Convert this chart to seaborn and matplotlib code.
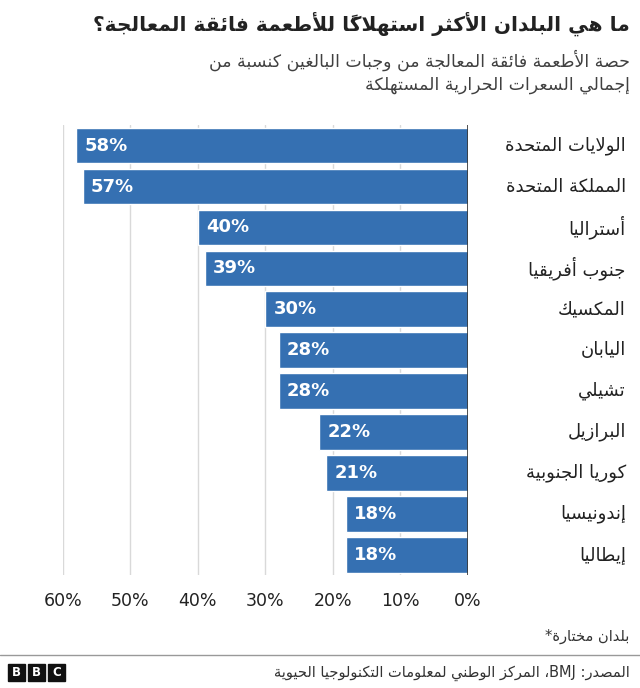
import matplotlib
matplotlib.use("Agg")
import matplotlib.pyplot as plt
import matplotlib.transforms as mtrans
from matplotlib.patches import Rectangle
import pandas as pd
import seaborn as sns

# --- data ---
countries = ["الولايات المتحدة", "المملكة المتحدة", "أستراليا", "جنوب أفريقيا", "المكسيك",
             "اليابان", "تشيلي", "البرازيل", "كوريا الجنوبية", "إندونيسيا", "إيطاليا"]
shares = [58, 57, 40, 39, 30, 28, 28, 22, 21, 18, 18]
ticks = [0, 10, 20, 30, 40, 50, 60]

TITLE = "ما هي البلدان الأكثر استهلاكاً للأطعمة فائقة المعالجة؟"
SUB1 = "حصة الأطعمة فائقة المعالجة من وجبات البالغين كنسبة من"
SUB2 = "إجمالي السعرات الحرارية المستهلكة"
NOTE = "بلدان مختارة*"
SOURCE = "المصدر: BMJ، المركز الوطني لمعلومات التكنولوجيا الحيوية"

# --- minimal arabic shaping (matplotlib has no complex text layout) ---
def _r(base, n):
    return tuple(chr(base + k) for k in range(n))

FORMS = {
    'ا': _r(0xFE8D, 2), 'أ': _r(0xFE83, 2), 'إ': _r(0xFE87, 2), 'آ': _r(0xFE81, 2),
    'ب': _r(0xFE8F, 4), 'ة': _r(0xFE93, 2), 'ت': _r(0xFE95, 4), 'ث': _r(0xFE99, 4),
    'ج': _r(0xFE9D, 4), 'ح': _r(0xFEA1, 4), 'خ': _r(0xFEA5, 4), 'د': _r(0xFEA9, 2),
    'ذ': _r(0xFEAB, 2), 'ر': _r(0xFEAD, 2), 'ز': _r(0xFEAF, 2), 'س': _r(0xFEB1, 4),
    'ش': _r(0xFEB5, 4), 'ص': _r(0xFEB9, 4), 'ض': _r(0xFEBD, 4), 'ط': _r(0xFEC1, 4),
    'ظ': _r(0xFEC5, 4), 'ع': _r(0xFEC9, 4), 'غ': _r(0xFECD, 4), 'ف': _r(0xFED1, 4),
    'ق': _r(0xFED5, 4), 'ك': _r(0xFED9, 4), 'ل': _r(0xFEDD, 4), 'م': _r(0xFEE1, 4),
    'ن': _r(0xFEE5, 4), 'ه': _r(0xFEE9, 4), 'و': _r(0xFEED, 2), 'ى': _r(0xFEEF, 2),
    'ي': _r(0xFEF1, 4), 'ء': _r(0xFE80, 1), 'ؤ': _r(0xFE85, 2), 'ئ': _r(0xFE89, 4),
}
LAMALEF = {'ا': _r(0xFEFB, 2), 'أ': _r(0xFEF7, 2), 'إ': _r(0xFEF9, 2), 'آ': _r(0xFEF5, 2)}


def _dual(c):
    return not isinstance(c, tuple) and c in FORMS and len(FORMS[c]) == 4


def _joins(c):
    return isinstance(c, tuple) or (c in FORMS and len(FORMS[c]) >= 2)


def _shape(s):
    units = []
    for ch in s:
        if '\u064b' <= ch <= '\u0652' and units:
            units[-1][1] += ch
        else:
            units.append([ch, ''])
    merged = []
    i = 0
    while i < len(units):
        c, m = units[i]
        if c == 'ل' and i + 1 < len(units) and units[i + 1][0] in LAMALEF:
            merged.append([('LA', units[i + 1][0]), m + units[i + 1][1]])
            i += 2
        else:
            merged.append([c, m])
            i += 1
    out = []
    for i, (c, m) in enumerate(merged):
        prev = merged[i - 1][0] if i > 0 else None
        nxt = merged[i + 1][0] if i + 1 < len(merged) else None
        jp = prev is not None and _dual(prev) and _joins(c)
        jn = nxt is not None and _dual(c) and _joins(nxt)
        if isinstance(c, tuple):
            f = LAMALEF[c[1]]
            g = f[1] if jp else f[0]
        elif c in FORMS:
            f = FORMS[c]
            if len(f) == 4:
                g = f[3] if (jp and jn) else f[2] if jn else f[1] if jp else f[0]
            elif len(f) == 2:
                g = f[1] if jp else f[0]
            else:
                g = f[0]
        else:
            g = c
        out.append(g + m)
    return out


def ar(s):
    """shape + visual reorder, latin runs kept left-to-right"""
    clusters, buf, latin = [], "", None
    for ch in s + "\0":
        is_lat = ch.isascii() and ch.isalnum()
        if ch == "\0" or (latin is not None and is_lat != latin):
            if buf:
                clusters += [buf] if latin else _shape(buf)
            buf = ""
        buf += ch
        latin = is_lat
    return "".join(reversed(clusters))


# --- plot ---
BLUE = "#3570B2"
plt.rcParams["font.family"] = "DejaVu Sans"
sns.set_theme(style="white", font="DejaVu Sans")

df = pd.DataFrame({"country": countries, "share": shares})

fig = plt.figure(figsize=(6.4, 6.88), dpi=100)
ax = fig.add_axes([0.098, 0.164, 0.633, 0.654])
sns.barplot(data=df, x="share", y="country", orient="h", color=BLUE,
            saturation=1, width=0.87, ax=ax)
ax.set_xlim(60, 0)
ax.set_xticks(ticks)
ax.set_xticklabels([f"{t}%" for t in ticks], fontsize=12.5, color="#222222")
ax.tick_params(axis="x", length=0, pad=12)
ax.set_yticks([])
ax.set_xlabel("")
ax.set_ylabel("")
for s in ax.spines.values():
    s.set_visible(False)
ax.grid(axis="x", color="#d9d9d9", lw=1)
ax.set_axisbelow(True)
ax.axvline(0, color="#333333", lw=1.2)

blend = mtrans.blended_transform_factory(ax.transAxes, ax.transData)
for i, (c, v) in enumerate(zip(countries, shares)):
    ax.text(v - 1.2, i, f"{v}%", color="white", fontsize=13, fontweight="bold",
            va="center", ha="left")
    ax.text(1.39, i, ar(c), transform=blend, fontsize=13, color="#222222",
            va="center", ha="right")

fig.text(0.984, 0.965, ar(TITLE), ha="right", va="center", fontsize=14.5, fontweight="bold", color="#222222")
fig.text(0.984, 0.912, ar(SUB1), ha="right", va="center", fontsize=12.5, color="#404040")
fig.text(0.984, 0.876, ar(SUB2), ha="right", va="center", fontsize=12.5, color="#404040")
fig.text(0.984, 0.075, ar(NOTE), ha="right", va="center", fontsize=10.5, color="#333333")
fig.add_artist(plt.Line2D([0.0, 1.0], [0.048, 0.048], color="#999999", lw=1))
fig.text(0.984, 0.022, ar(SOURCE), ha="right", va="center", fontsize=10.5, color="#333333")

for k, letter in enumerate("BBC"):
    x0 = (8 + k * 20) / 640
    fig.add_artist(Rectangle((x0, 0.010), 17 / 640, 17 / 688, color="#111111"))
    fig.text(x0 + 8.5 / 640, 0.010 + 8.5 / 688, letter, color="white", fontsize=8.5,
             fontweight="bold", ha="center", va="center")

fig.savefig("out.png", dpi=100)
